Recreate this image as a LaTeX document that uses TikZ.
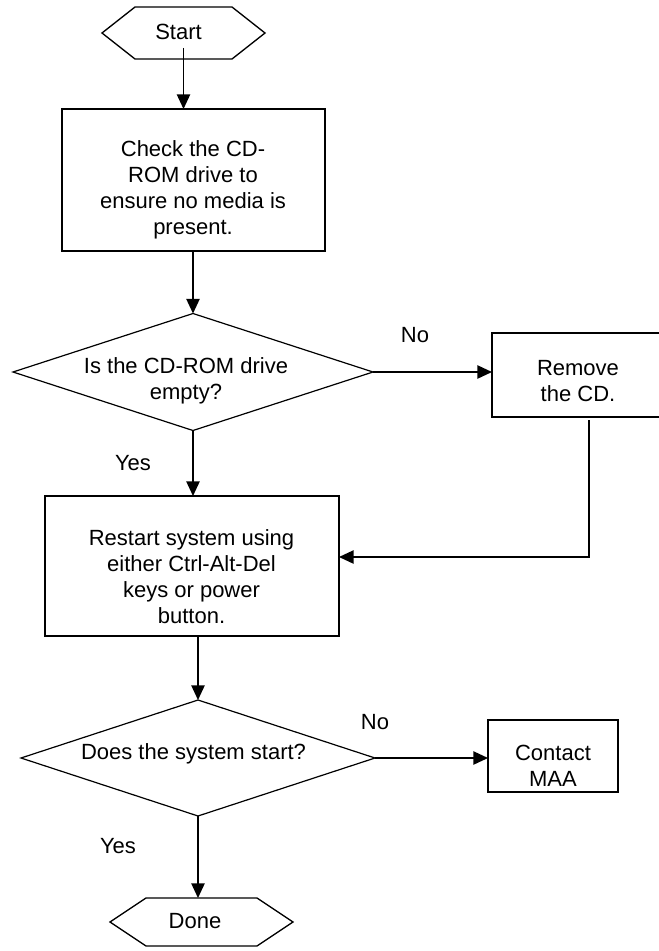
\documentclass[tikz,border=0pt]{standalone}
\usepackage{fontspec}
\setmainfont{Liberation Sans}
\usetikzlibrary{arrows.meta,shapes.geometric}
\begin{document}
\begin{tikzpicture}[x=0.75pt,y=-0.75pt,
  every node/.style={inner sep=0pt, outer sep=0pt},
  lbl/.style={font=\fontsize{16.5}{19.5}\selectfont, align=center, text=black},
  procbox/.style={draw, line width=1.2pt, rectangle},
  decision/.style={draw, line width=0.9pt, diamond},
  hexfit/.style={rectangle},
  hexline/.style={line width=1pt, line join=miter},
  flow/.style={line width=1.1pt, -{Triangle[length=11pt,width=10pt]}},
  plain/.style={line width=1.1pt},
]
\useasboundingbox (0,0) rectangle (659,951);
\clip (0,0) rectangle (659,951);

% terminals
\node[hexfit, minimum width=122.25pt, minimum height=39pt] (starthex) at (183.5,33) {};
\draw[hexline] (starthex.west) -- ([xshift=24.75pt]starthex.north west)
  -- ([xshift=-24.75pt]starthex.north east) -- (starthex.east)
  -- ([xshift=-24.75pt]starthex.south east) -- ([xshift=24.75pt]starthex.south west) -- cycle;
\node[lbl, inner ysep=6pt] (starttxt) at (178.5,32) {Start};

\node[hexfit, minimum width=137.25pt, minimum height=36pt] (done) at (201.5,922) {};
\draw[hexline] (done.west) -- ([xshift=27pt]done.north west)
  -- ([xshift=-27pt]done.north east) -- (done.east)
  -- ([xshift=-27pt]done.south east) -- ([xshift=27pt]done.south west) -- cycle;
\node[lbl] (donetxt) at (195,921) {Done};

% process boxes
\node[procbox, minimum width=197.25pt, minimum height=106.5pt] (box1) at (193.5,180) {};
\node[lbl] (box1txt) at (193,190) {Check the CD-\\ROM drive to\\ensure no media is\\present.};

\node[procbox, minimum width=129pt, minimum height=63pt] (remove) at (578,375) {};
\node[lbl] (removetxt) at (578,381) {Remove\\the CD.};

\node[procbox, minimum width=220.5pt, minimum height=105pt] (box2) at (192,566) {};
\node[lbl] (box2txt) at (191.5,577) {Restart system using\\either Ctrl-Alt-Del\\keys or power\\button.};

\node[procbox, minimum width=97.5pt, minimum height=54pt] (contact) at (553,756) {};
\node[lbl] (contacttxt) at (553,766) {Contact\\MAA};

% decisions
\node[decision, minimum width=270pt, minimum height=87.75pt] (d1) at (193,372) {};
\node[lbl] (d1txt) at (186,381) {Is the CD-ROM drive\\empty?};

\node[decision, minimum width=265.5pt, minimum height=87pt] (d2) at (198,758) {};
\node[lbl] (d2txt) at (193.5,754) {Does the system start?};

% branch labels
\node[lbl] (no1) at (415,335) {No};
\node[lbl] (yes1) at (133,463) {Yes};
\node[lbl] (no2) at (375,722) {No};
\node[lbl] (yes2) at (118,846) {Yes};

% connectors
\draw[flow] (starthex.center |- starttxt.south) -- (starthex.center |- box1.north);
\draw[flow] (box1.south -| d1.north) -- (d1.north);
\draw[flow] (d1.east) -- (d1.east -| remove.west);
\draw[flow] (d1.south) -- (d1.south |- box2.north);
\coordinate (loopcorner) at (589,557);
\draw[flow] ([yshift=-2.25pt]loopcorner |- remove.south) -- (loopcorner) -- (loopcorner -| box2.east);
\draw[flow] (box2.south -| d2.north) -- (d2.north);
\draw[flow] (d2.east) -- (d2.east -| contact.west);
\draw[flow] (d2.south) -- (d2.south |- done.north);
\end{tikzpicture}
\end{document}
